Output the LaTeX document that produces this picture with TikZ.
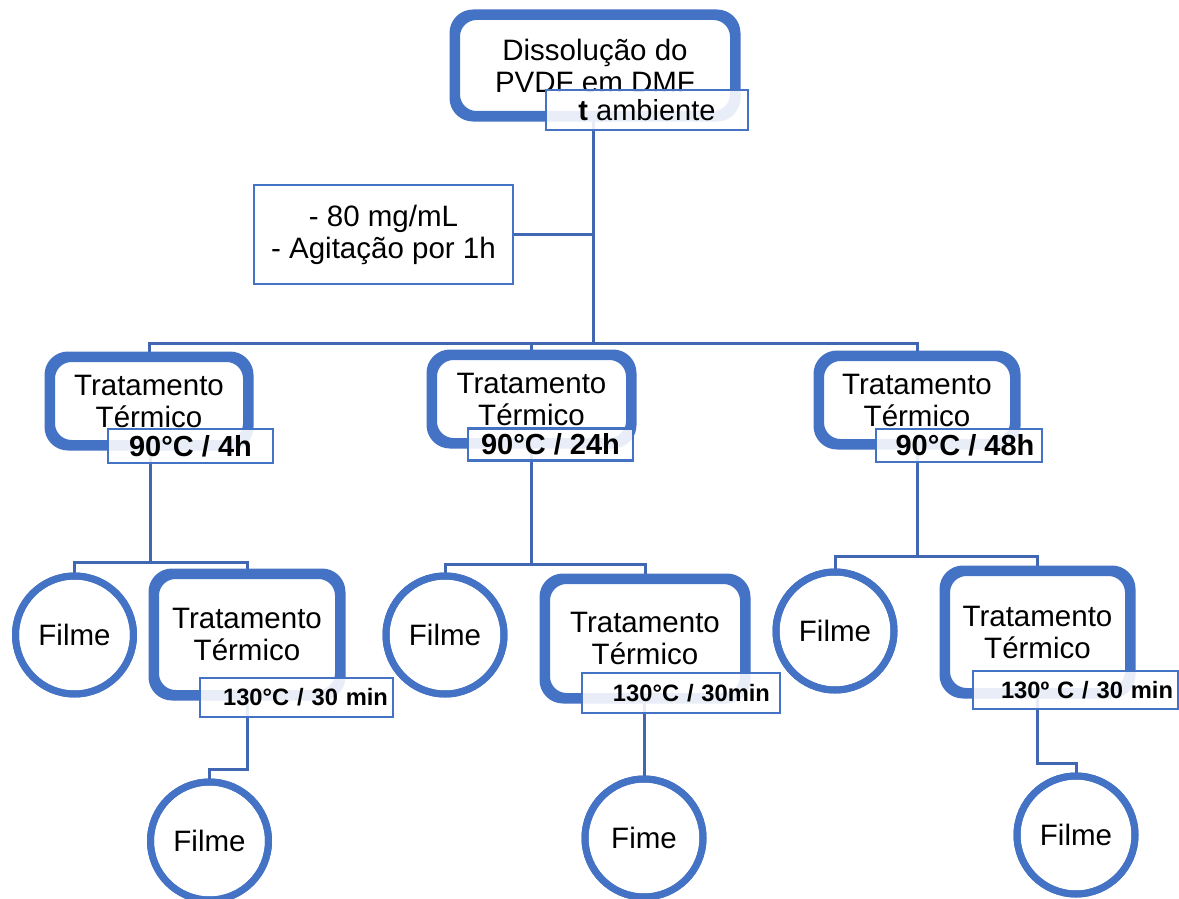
\documentclass[tikz,border=0pt]{standalone}
\usepackage{fontspec}
\setmainfont{Liberation Sans}
\definecolor{boxblue}{HTML}{4472C4}
\definecolor{linkblue}{HTML}{4267B2}
\begin{document}
\begin{tikzpicture}[x=1pt,y=-1pt,
  every node/.style={font=\fontsize{29.5}{32}\selectfont, align=center, inner sep=0pt},
  stage/.style={draw=boxblue, line width=7pt, rounded corners=20pt, fill=white},
  film/.style={draw=boxblue, line width=7pt, circle, fill=white, minimum size=118pt},
  tag/.style={draw=boxblue, line width=2.5pt, fill=white, fill opacity=0.88, text opacity=1, font=\fontsize{29}{32}\selectfont\bfseries},
  tagsmall/.style={tag, font=\fontsize{23.7}{28}\selectfont\bfseries, align=right, inner xsep=5pt},
  note/.style={draw=boxblue, line width=2.5pt, fill=white},
  conn/.style={draw=linkblue, line width=3pt}]
\useasboundingbox (0,0) rectangle (1179,899);

% junction points of the tree
\coordinate (bus) at (593,343);
\coordinate (jL) at (150,562);
\coordinate (jC) at (531,564);
\coordinate (jR) at (917,556);
\coordinate (kL) at (247,769);
\coordinate (kR) at (1037,763);

% nodes
\node[stage, minimum width=277pt, minimum height=98pt] (top) at (595,65.5) {\raisebox{5pt}{\parbox{270pt}{\centering Dissolução do\\PVDF em DMF}}};
\node[note, minimum width=259pt, minimum height=99pt] (cond) at (383.5,234.5) {- 80 mg/mL\\- Agitação por 1h};

\node[stage, minimum width=195pt, minimum height=85pt] (tL) at (149,401) {\raisebox{3pt}{\parbox{190pt}{\centering Tratamento\\Térmico}}};
\node[stage, minimum width=196pt, minimum height=85pt] (tC) at (531.5,399) {\raisebox{3pt}{\parbox{190pt}{\centering Tratamento\\Térmico}}};
\node[stage, minimum width=193pt, minimum height=85pt] (tR) at (917,400) {\raisebox{3pt}{\parbox{190pt}{\centering Tratamento\\Térmico}}};

\node[film] (fL1) at (74.5,635) {Filme};
\node[film] (fC1) at (445,635) {Filme};
\node[film] (fR1) at (835,631) {Filme};

\node[stage, minimum width=183pt, minimum height=118pt] (sL) at (247,634.5) {\raisebox{3pt}{\parbox{180pt}{\centering Tratamento\\Térmico}}};
\node[stage, minimum width=197pt, minimum height=116pt] (sC) at (645,638.5) {\raisebox{3pt}{\parbox{190pt}{\centering Tratamento\\Térmico}}};
\node[stage, minimum width=182pt, minimum height=119pt] (sR) at (1037.5,632) {\raisebox{3pt}{\parbox{180pt}{\centering Tratamento\\Térmico}}};

\node[film] (fL2) at (209.5,841) {Filme};
\node[film] (fC2) at (644,838) {Fime};
\node[film] (fR2) at (1076,835) {Filme};

% connectors
\draw[conn] (top.south -| bus) -- (bus);
\draw[conn] (cond.east) -- (cond.east -| bus);
\draw[conn] (tL.north) |- (bus) -| (tR.north);
\draw[conn] (tC.north) -- (tC.north |- bus);
\draw[conn] (tL.south -| jL) -- (jL);
\draw[conn] (fL1.north) |- (jL) -| (sL.north);
\draw[conn] (tC.south -| jC) -- (jC);
\draw[conn] (fC1.north) |- (jC) -| (sC.north);
\draw[conn] (tR.south -| jR) -- (jR);
\draw[conn] (fR1.north) |- (jR) -| (sR.north);
\draw[conn] (sL.south -| kL) -- (kL) -| (fL2.north);
\draw[conn] (sC.south -| fC2) -- (fC2.north);
\draw[conn] (sR.south -| kR) -- (kR) -| (fR2.north);

% redraw outlines over the line ends
\foreach \n in {top,tL,tC,tR,sL,sC,sR}{\draw[draw=boxblue, line width=7pt, rounded corners=20pt] (\n.north west) rectangle (\n.south east);}
\foreach \n in {fL1,fC1,fR1,fL2,fC2,fR2}{\draw[draw=boxblue, line width=7pt] (\n) circle (59pt);}

% condition tags overlapping the boxes
\node[tag, minimum width=202pt, minimum height=40pt] (amb) at (647,110) {t\mdseries\ ambiente};
\node[tag, minimum width=165pt, minimum height=34pt] (lL) at (190.5,446) {90°C / 4h};
\node[tag, minimum width=165pt, minimum height=32pt] (lC) at (550.5,444.5) {90°C / 24h};
\node[tag, minimum width=166pt, minimum height=33pt] (lR) at (959,445.5) {\hspace*{12pt}90°C / 48h};
\node[tagsmall, text width=183pt, minimum height=39pt] (lL2) at (296.5,697.5) {130°C / 30 min};
\node[tagsmall, text width=178pt, minimum height=40pt, inner xsep=10pt] (lC2) at (681,693) {130°C / 30min};
\node[tagsmall, text width=195pt, minimum height=38pt] (lR2) at (1075.5,690) {130º C / 30 min};
\end{tikzpicture}
\end{document}
